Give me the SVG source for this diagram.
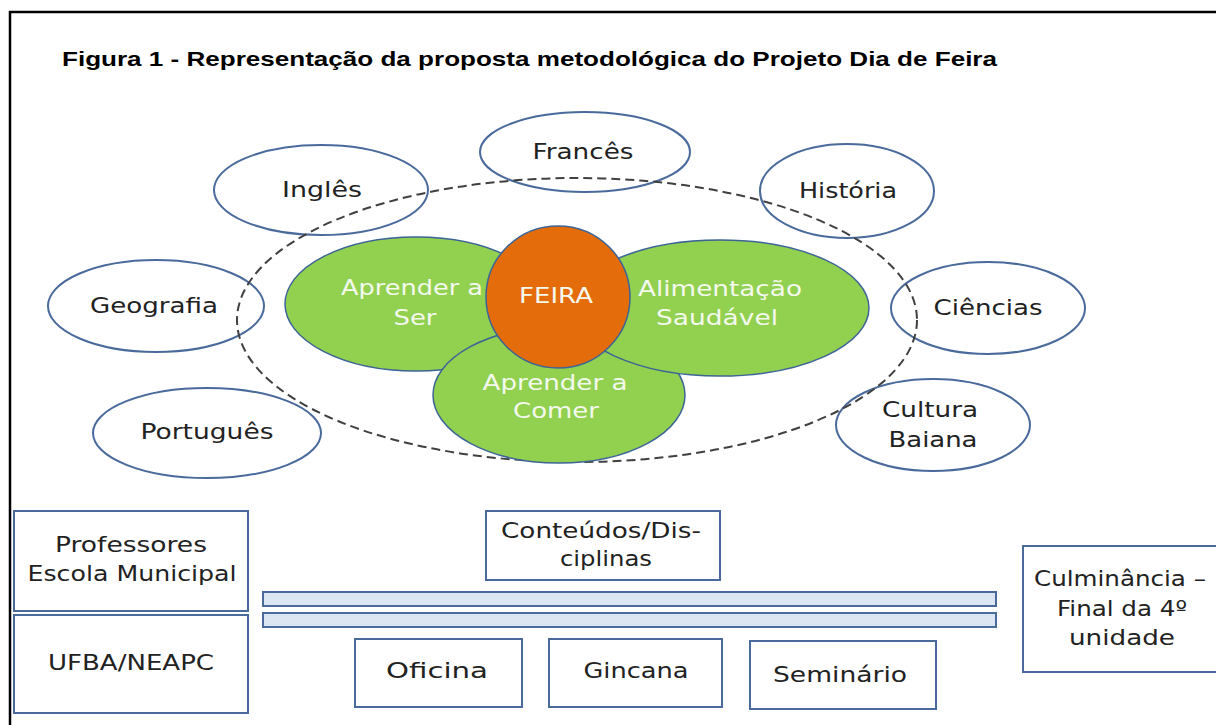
<svg xmlns="http://www.w3.org/2000/svg" width="1216" height="725" viewBox="0 0 1216 725">
<style>
.frame{fill:none;stroke:#000;stroke-width:2.5}
.oval{fill:none;stroke:#4a6a9c;stroke-width:2}
.green{fill:#92d050;stroke:#3c6496;stroke-width:1.5}
.feira{fill:#e46c0a;stroke:#3c6496;stroke-width:1.5}
.dash{fill:none;stroke:#404040;stroke-width:2;stroke-dasharray:9 5}
.box{fill:#fff;stroke:#4a6a9c;stroke-width:2}
.bar{fill:#dce6f2;stroke:#4a6a9c;stroke-width:2}
.t{font-family:"DejaVu Sans","Open Sans",sans-serif;font-size:21px;fill:#222;text-anchor:middle}
.w{font-family:"DejaVu Sans","Open Sans",sans-serif;font-size:21px;fill:#f4f9ee;text-anchor:middle}
.title{font-family:"Liberation Sans",Arial,sans-serif;font-size:21px;font-weight:bold;fill:#000}
</style>
<rect width="1216" height="725" fill="#fff"/>
<path class="frame" d="M10,730 V12 H1220"/>
<text class="title" x="62" y="66" textLength="935" lengthAdjust="spacingAndGlyphs">Figura 1 - Representação da proposta metodológica do Projeto Dia de Feira</text>

<g id="frances"><ellipse class="oval" cx="585" cy="152" rx="105" ry="40"/><text class="t" x="583" y="159" textLength="101" lengthAdjust="spacingAndGlyphs">Francês</text></g>
<g id="ingles"><ellipse class="oval" cx="321" cy="190" rx="107" ry="45"/><text class="t" x="322" y="197" textLength="80" lengthAdjust="spacingAndGlyphs">Inglês</text></g>
<g id="historia"><ellipse class="oval" cx="847" cy="191" rx="87" ry="47"/><text class="t" x="848" y="198" textLength="98" lengthAdjust="spacingAndGlyphs">História</text></g>
<g id="geografia"><ellipse class="oval" cx="156" cy="306" rx="108" ry="46"/><text class="t" x="154" y="313" textLength="128" lengthAdjust="spacingAndGlyphs">Geografia</text></g>
<g id="ciencias"><ellipse class="oval" cx="988" cy="308" rx="97" ry="46"/><text class="t" x="988" y="315" textLength="109" lengthAdjust="spacingAndGlyphs">Ciências</text></g>
<g id="portugues"><ellipse class="oval" cx="207" cy="433" rx="114" ry="45"/><text class="t" x="207" y="439" textLength="133" lengthAdjust="spacingAndGlyphs">Português</text></g>
<g id="cultura"><ellipse class="oval" cx="933" cy="425" rx="97" ry="46"/><text class="t" x="930" y="417" textLength="96" lengthAdjust="spacingAndGlyphs">Cultura</text><text class="t" x="933" y="447" textLength="89" lengthAdjust="spacingAndGlyphs">Baiana</text></g>

<g id="connectors">
<ellipse class="dash" cx="577" cy="320" rx="340" ry="142"/>
</g>

<g id="ser"><ellipse class="green" cx="416" cy="304" rx="131" ry="67"/><text class="w" x="412" y="295" textLength="142" lengthAdjust="spacingAndGlyphs">Aprender a</text><text class="w" x="415" y="325" textLength="43" lengthAdjust="spacingAndGlyphs">Ser</text></g>
<g id="comer"><ellipse class="green" cx="559" cy="395" rx="126" ry="68"/><text class="w" x="555" y="390" textLength="145" lengthAdjust="spacingAndGlyphs">Aprender a</text><text class="w" x="556" y="418" textLength="86" lengthAdjust="spacingAndGlyphs">Comer</text></g>
<g id="alimentacao"><ellipse class="green" cx="720" cy="308" rx="149" ry="68"/><text class="w" x="720" y="296" textLength="164" lengthAdjust="spacingAndGlyphs">Alimentação</text><text class="w" x="717" y="325" textLength="122" lengthAdjust="spacingAndGlyphs">Saudável</text></g>
<g id="feira"><ellipse class="feira" cx="558" cy="297" rx="72" ry="71"/><text class="w" x="556" y="303" textLength="74" lengthAdjust="spacingAndGlyphs">FEIRA</text></g>

<g id="professores"><rect class="box" x="14" y="511" width="234" height="100"/><text class="t" x="131" y="552" textLength="152" lengthAdjust="spacingAndGlyphs">Professores</text><text class="t" x="132" y="581" textLength="209" lengthAdjust="spacingAndGlyphs">Escola Municipal</text></g>
<g id="ufba"><rect class="box" x="14" y="615" width="234" height="98"/><text class="t" x="131" y="670" textLength="166" lengthAdjust="spacingAndGlyphs">UFBA/NEAPC</text></g>
<g id="conteudos"><rect class="box" x="486" y="511" width="234" height="69"/><text class="t" x="601" y="538" textLength="200" lengthAdjust="spacingAndGlyphs">Conteúdos/Dis-</text><text class="t" x="606" y="566" textLength="92" lengthAdjust="spacingAndGlyphs">ciplinas</text></g>
<g id="bar1"><rect class="bar" x="263" y="592" width="733" height="14"/></g>
<g id="bar2"><rect class="bar" x="263" y="613" width="733" height="14"/></g>
<g id="oficina"><rect class="box" x="355" y="639" width="167" height="68"/><text class="t" x="437" y="678" textLength="102" lengthAdjust="spacingAndGlyphs">Oficina</text></g>
<g id="gincana"><rect class="box" x="549" y="639" width="173" height="68"/><text class="t" x="636" y="678" textLength="105" lengthAdjust="spacingAndGlyphs">Gincana</text></g>
<g id="seminario"><rect class="box" x="750" y="641" width="186" height="68"/><text class="t" x="840" y="682" textLength="134" lengthAdjust="spacingAndGlyphs">Seminário</text></g>
<g id="culminancia"><rect class="box" x="1023" y="546" width="200" height="126"/><text class="t" x="1120" y="586" textLength="172" lengthAdjust="spacingAndGlyphs">Culminância –</text><text class="t" x="1122" y="616" textLength="130" lengthAdjust="spacingAndGlyphs">Final da 4º</text><text class="t" x="1122" y="645" textLength="106" lengthAdjust="spacingAndGlyphs">unidade</text></g>
</svg>
